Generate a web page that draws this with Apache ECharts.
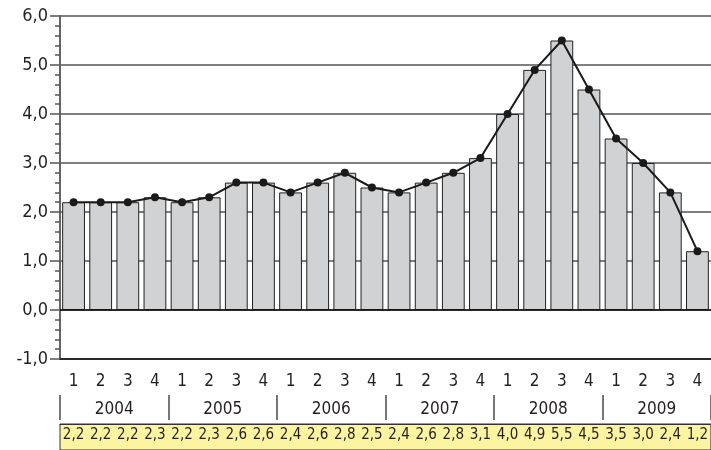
<!DOCTYPE html>
<html><head><meta charset="utf-8">
<script src="https://cdn.jsdelivr.net/npm/echarts@6/dist/echarts.min.js"></script>
<style>html,body{margin:0;padding:0;background:#fff}#c{width:711px;height:450px}</style>
</head><body><div id="c"></div>
<script>
const quarters = ['1','2','3','4','1','2','3','4','1','2','3','4','1','2','3','4','1','2','3','4','1','2','3','4'];
const years = ['2004','2005','2006','2007','2008','2009'];
const values = [2.2,2.2,2.2,2.3,2.2,2.3,2.6,2.6,2.4,2.6,2.8,2.5,2.4,2.6,2.8,3.1,4.0,4.9,5.5,4.5,3.5,3.0,2.4,1.2];
const yTicks = [-1,0,1,2,3,4,5,6];
const fmt = v => v.toFixed(1).replace('.', ',');
const FONT = '"DejaVu Sans Condensed", "Liberation Sans Narrow", "Liberation Sans", sans-serif';
const TXT = '#231f20';
const GRID_LEFT = 60, GRID_RIGHT = -5, CHART_W = 711;
const chart = echarts.init(document.getElementById('c'));
chart.setOption({
  animation: false,
  textStyle: {fontFamily: FONT},
  grid: [
    {left: GRID_LEFT, right: GRID_RIGHT, top: 16, height: 343, containLabel: false},
    {left: GRID_LEFT, right: GRID_RIGHT, top: 424, height: 30, show: true, backgroundColor: '#fdf4a2', borderColor: '#333', borderWidth: 1}
  ],
  xAxis: [
    {type: 'category', gridIndex: 0, data: quarters, boundaryGap: true,
     axisLine: {show: true, onZero: false, lineStyle: {color: '#111', width: 1.5}},
     axisTick: {show: false},
     axisLabel: {interval: 0, margin: 14, fontSize: 17, color: TXT, fontFamily: FONT}},
    {type: 'category', gridIndex: 0, data: years, position: 'bottom', offset: 36, boundaryGap: true,
     axisLine: {show: false, onZero: false},
     axisTick: {show: true, interval: 0, length: 25, lineStyle: {color: '#777', width: 2}},
     axisLabel: {interval: 0, margin: 6, fontSize: 17, color: TXT, fontFamily: FONT}},
    {type: 'category', gridIndex: 1, data: values.map(fmt), position: 'top', boundaryGap: true,
     axisLine: {show: true, onZero: false, lineStyle: {color: '#333', width: 1}},
     axisTick: {show: false},
     axisLabel: {interval: 0, inside: true, margin: 4, fontSize: 15, color: TXT, fontFamily: FONT}}
  ],
  yAxis: [
    {type: 'value', gridIndex: 0, min: yTicks[0], max: yTicks[yTicks.length-1], interval: 1,
     axisLine: {show: true, onZero: false, lineStyle: {color: '#666', width: 2}},
     axisTick: {show: true, length: 10, lineStyle: {color: '#555', width: 1.5}},
     axisLabel: {formatter: fmt, fontSize: 18, color: TXT, margin: 12, fontFamily: FONT},
     splitLine: {show: true, lineStyle: {color: '#555', width: 1.5}}},
    {type: 'value', gridIndex: 0, min: yTicks[0], max: yTicks[yTicks.length-1], interval: 1,
     position: 'right', offset: -(CHART_W - GRID_LEFT - GRID_RIGHT),
     axisLine: {show: false, onZero: false},
     axisTick: {show: false},
     minorTick: {show: true, splitNumber: 5, length: 5, lineStyle: {color: '#555', width: 1.5}},
     axisLabel: {show: false},
     splitLine: {show: false}},
    {type: 'value', gridIndex: 1, show: false, min: 0, max: 1}
  ],
  series: [
    {type: 'bar', xAxisIndex: 0, yAxisIndex: 0, data: values, barCategoryGap: '16%',
     itemStyle: {color: '#d1d2d4', borderColor: '#222', borderWidth: 1},
     markLine: {silent: true, symbol: 'none', label: {show: false},
       lineStyle: {color: '#111', width: 1.5, type: 'solid'}, data: [{yAxis: 0}]}},
    {type: 'line', xAxisIndex: 0, yAxisIndex: 0, data: values, symbol: 'circle', symbolSize: 8,
     lineStyle: {color: '#1a1a1a', width: 2}, itemStyle: {color: '#1a1a1a'}, z: 5}
  ]
});
</script></body></html>
